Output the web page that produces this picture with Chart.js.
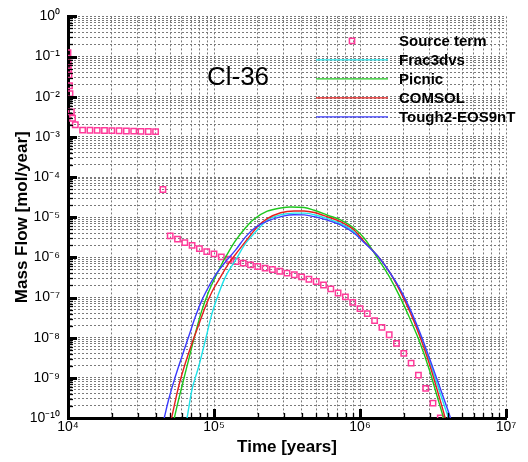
<!DOCTYPE html>
<html><head><meta charset="utf-8">
<script src="https://cdn.jsdelivr.net/npm/chart.js@4/dist/chart.umd.min.js"></script>
<style>html,body{margin:0;padding:0;background:#fff}canvas{display:block}</style>
</head><body>
<canvas id="c" width="528" height="462"></canvas>
<script>
const FONT = '"Liberation Sans", Arial, Helvetica, sans-serif';

// ---- data (time in years, mass flow in mol/year) ----
const seriesLabels = ['Source term', 'Frac3dvs', 'Picnic', 'COMSOL', 'Tough2-EOS9nT'];

const sourceTime = [10000, 10010, 10030, 10080, 10160, 10240, 10320, 10540, 10740, 11220,
  12590, 14130, 15850, 17780, 19950, 22390, 25120, 28180, 31620, 35480, 39810,
  44670, 50120, 56230, 63100, 70790, 79430, 89130, 100000, 112200, 125900, 141300, 158500,
  177800, 199500, 223900, 251200, 281800, 316200, 354800, 398100, 446700, 501200, 562300,
  631000, 707900, 794300, 891300, 1000000, 1122000, 1259000, 1413000, 1585000, 1778000,
  1995000, 2239000, 2512000, 2818000, 3162000, 3548000];
const sourceFlow = [0.124, 0.070, 0.056, 0.044, 0.035, 0.0187, 0.0119, 4.2e-3, 2.9e-3, 2.0e-3,
  1.47e-3, 1.46e-3, 1.45e-3, 1.44e-3, 1.43e-3, 1.42e-3, 1.40e-3, 1.39e-3, 1.37e-3, 1.36e-3, 1.35e-3,
  4.9e-5, 3.43e-6, 2.84e-6, 2.32e-6, 1.99e-6, 1.65e-6, 1.39e-6, 1.22e-6, 1.03e-6, 9.0e-7, 7.9e-7, 7.18e-7,
  6.5e-7, 5.94e-7, 5.39e-7, 5.0e-7, 4.5e-7, 4.05e-7, 3.7e-7, 3.27e-7, 2.85e-7, 2.5e-7, 2.05e-7,
  1.64e-7, 1.30e-7, 1.04e-7, 7.55e-8, 5.3e-8, 3.98e-8, 2.66e-8, 1.80e-8, 1.18e-8, 7.2e-9,
  4.07e-9, 2.33e-9, 1.17e-9, 5.48e-10, 2.34e-10, 1.0e-10];

const frac3dvsTime = [62900, 65400, 70600, 78500, 87300, 96900, 107700, 119800, 140400, 164500,
  192700, 231600, 286400, 353700, 414300, 485600, 599500, 741400, 915300, 1072000,
  1360000, 1594000, 1867000, 2188000, 2564000, 3004000, 3520000, 3870000, 4190000];
const frac3dvsFlow = [4.5e-11, 1.0e-10, 5.0e-10, 1.89e-9, 8.7e-9, 4.02e-8, 1.26e-7, 3.27e-7, 8.51e-7, 2.22e-6,
  4.31e-6, 8.42e-6, 1.15e-5, 1.26e-5, 1.26e-5, 1.15e-5, 9.18e-6, 6.89e-6, 4.24e-6, 2.39e-6,
  9.55e-7, 4.29e-7, 1.62e-7, 4.86e-8, 1.23e-8, 2.47e-9, 4.43e-10, 1.58e-10, 6.7e-11];

const picnicTime = [50000, 53700, 60200, 67000, 74500, 82700, 91900, 102200, 113500, 126200,
  140400, 164500, 187600, 231600, 286400, 335700, 414300, 485600, 599500, 741400,
  915300, 1072000, 1360000, 1594000, 1867000, 2188000, 2564000, 3004000, 3356000, 3633000, 3870000];
const picnicFlow = [2.8e-11, 1.06e-10, 6.0e-10, 2.8e-9, 1.28e-8, 4.86e-8, 1.39e-7, 3.27e-7, 7.05e-7, 1.39e-6,
  2.6e-6, 5.48e-6, 8.9e-6, 1.41e-5, 1.70e-5, 1.80e-5, 1.74e-5, 1.49e-5, 1.12e-5, 8.42e-6,
  5.24e-6, 2.95e-6, 8.04e-7, 3.22e-7, 1.08e-7, 3.08e-8, 7.78e-9, 1.48e-9, 3.73e-10, 1.41e-10, 6.3e-11];

const comsolTime = [47300, 51400, 57200, 63600, 70600, 78500, 87300, 96900, 107700, 126200,
  147900, 173400, 196800, 231600, 286400, 353700, 414300, 485600, 599500, 741400,
  915300, 1072000, 1360000, 1594000, 1867000, 2188000, 2564000, 3004000, 3410000, 3750000, 3996000];
const comsolFlow = [2.8e-11, 1.06e-10, 6.0e-10, 2.3e-9, 7.2e-9, 2.06e-8, 5.87e-8, 1.39e-7, 2.71e-7, 7.05e-7,
  1.51e-6, 3.18e-6, 5.64e-6, 9.18e-6, 1.29e-5, 1.43e-5, 1.43e-5, 1.31e-5, 1.02e-5, 7.64e-6,
  4.75e-6, 2.43e-6, 9.55e-7, 4.29e-7, 1.53e-7, 4.59e-8, 1.10e-8, 2.08e-9, 4.43e-10, 1.33e-10, 5.6e-11];

const tough2Time = [41600, 45800, 48800, 54300, 60200, 67000, 74500, 82700, 91900, 102200,
  119800, 140400, 164500, 192700, 231600, 301800, 353700, 414300, 485600, 599500,
  741400, 915300, 1072000, 1360000, 1594000, 1867000, 2188000, 2564000, 3004000, 3520000, 3996000, 4394000];
const tough2Flow = [2.5e-11, 1.06e-10, 2.8e-10, 1.06e-9, 3.35e-9, 1.05e-8, 3.31e-8, 8.61e-8, 1.85e-7, 3.6e-7,
  7.73e-7, 1.51e-6, 3.24e-6, 5.64e-6, 7.95e-6, 1.08e-5, 1.15e-5, 1.14e-5, 1.03e-5, 8.42e-6,
  6.33e-6, 3.94e-6, 2.32e-6, 9.55e-7, 4.29e-7, 1.71e-7, 5.45e-8, 1.38e-8, 2.94e-9, 5.9e-10, 1.58e-10, 5.6e-11];

// axis decades (tick labels are 10^n)
const xDecades = [4, 5, 6, 7];
const yDecades = [-10, -9, -8, -7, -6, -5, -4, -3, -2, -1, 0];
const xTitle = 'Time [years]';
const yTitle = 'Mass Flow [mol/year]';
const plotNote = 'Cl-36';

// ---- helpers ----
const SUP = {'0':'\u2070','1':'\u00B9','2':'\u00B2','3':'\u00B3','4':'\u2074','5':'\u2075','6':'\u2076','7':'\u2077','8':'\u2078','9':'\u2079','-':'\u207B'};
function powLabel(e) { return '10' + String(e).split('').map(c => SUP[c]).join(''); }
function isPow10(v) { const e = Math.round(Math.log10(v)); return Math.abs(v / Math.pow(10, e) - 1) < 1e-6; }
function decadeTicks(decs) {
  const out = [];
  decs.forEach((e, i) => {
    out.push({ value: Math.pow(10, e) });
    if (i < decs.length - 1) for (let m = 2; m <= 9; m++) out.push({ value: m * Math.pow(10, e) });
  });
  return out;
}
function pts(t, v) { return t.map((x, i) => ({ x: x, y: v[i] })); }

const lineDs = (label, t, v, color, order) => ({
  label, data: pts(t, v), showLine: true, borderColor: color, backgroundColor: color,
  borderWidth: 1.4, pointRadius: 0, pointHoverRadius: 0, cubicInterpolationMode: 'monotone', order
});

const datasets = [
  { label: seriesLabels[0], data: pts(sourceTime, sourceFlow), showLine: false,
    pointStyle: 'rect', pointRadius: 3.8, borderWidth: 1.5, borderColor: '#ff3b9a',
    backgroundColor: 'rgba(255,255,255,0)', order: 10 },
  lineDs(seriesLabels[1], frac3dvsTime, frac3dvsFlow, '#1fe3ea', 4),
  lineDs(seriesLabels[2], picnicTime, picnicFlow, '#1ec81e', 3),
  lineDs(seriesLabels[3], comsolTime, comsolFlow, '#e61e1e', 2),
  lineDs(seriesLabels[4], tough2Time, tough2Flow, '#3c3cff', 1)
];

const gridOpts = { color: '#7a7a7a', lineWidth: 1, drawTicks: false };
const borderOpts = { display: true, color: '#000', width: 3, dash: [2, 2] };

const innerTicks = {
  id: 'innerTicks',
  afterDraw(chart) {
    const { ctx, chartArea: a, scales } = chart;
    ctx.save();
    ctx.strokeStyle = '#000';
    scales.x.ticks.forEach(t => {
      const px = Math.round(scales.x.getPixelForValue(t.value)) + 0.5;
      const maj = isPow10(t.value);
      ctx.lineWidth = maj ? 3 : 1.3;
      ctx.beginPath(); ctx.moveTo(px, a.bottom); ctx.lineTo(px, a.bottom - (maj ? 9 : 5)); ctx.stroke();
    });
    scales.y.ticks.forEach(t => {
      const py = Math.round(scales.y.getPixelForValue(t.value)) + 0.5;
      const maj = isPow10(t.value);
      ctx.lineWidth = maj ? 3 : 1.3;
      ctx.beginPath(); ctx.moveTo(a.left, py); ctx.lineTo(a.left + (maj ? 9 : 5), py); ctx.stroke();
    });
    ctx.restore();
  }
};

const annotate = {
  id: 'annotate',
  afterDraw(chart) {
    const { ctx, chartArea: a } = chart;
    ctx.save();
    // plot note
    ctx.font = '26px ' + FONT;
    ctx.fillStyle = '#000';
    ctx.textAlign = 'center';
    ctx.textBaseline = 'middle';
    ctx.fillText(plotNote, a.left + 170, a.top + 61);
    // legend
    ctx.textAlign = 'left';
    ctx.font = 'bold 15px ' + FONT;
    const x0 = a.right - 190, x1 = a.right - 118, xt = a.right - 107;
    chart.data.datasets.forEach((ds, i) => {
      const y = a.top + 24.5 + i * 19;
      ctx.strokeStyle = ds.borderColor;
      ctx.lineWidth = ds.borderWidth;
      if (ds.showLine === false) {
        const s = 2.6;
        ctx.strokeRect((x0 + x1) / 2 - s, y - s, 2 * s, 2 * s);
      } else {
        ctx.beginPath(); ctx.moveTo(x0, y); ctx.lineTo(x1, y); ctx.stroke();
      }
      ctx.fillStyle = '#000';
      ctx.fillText(ds.label, xt, y + 0.5);
    });
    ctx.restore();
  }
};

new Chart(document.getElementById('c'), {
  type: 'scatter',
  data: { datasets },
  options: {
    responsive: false,
    animation: false,
    events: [],
    layout: { padding: { left: 0, top: 16, right: 22, bottom: 0 } },
    plugins: { legend: { display: false }, tooltip: { enabled: false } },
    scales: {
      x: {
        type: 'logarithmic', min: 1e4, max: 1e7,
        afterBuildTicks: s => { s.ticks = decadeTicks(xDecades); },
        afterFit: s => { s.height = 44; },
        grid: gridOpts, border: borderOpts,
        ticks: { autoSkip: false, maxRotation: 0, padding: 1, color: '#000',
          font: { size: 14, family: FONT },
          callback: v => isPow10(v) ? powLabel(Math.round(Math.log10(v))) : '' },
        title: { display: true, text: xTitle, color: '#000', padding: { top: 2, bottom: 4 },
          font: { size: 17, weight: 'bold', family: FONT } }
      },
      y: {
        type: 'logarithmic', min: 1e-10, max: 1,
        afterBuildTicks: s => { s.ticks = decadeTicks(yDecades); },
        afterFit: s => { s.width = 68; },
        grid: gridOpts, border: borderOpts,
        ticks: { autoSkip: false, padding: 8, color: '#000',
          font: { size: 14, family: FONT },
          callback: v => isPow10(v) ? powLabel(Math.round(Math.log10(v))) : '' },
        title: { display: true, text: yTitle, color: '#000', padding: { top: 12, bottom: 0 },
          font: { size: 17, weight: 'bold', family: FONT } }
      }
    }
  },
  plugins: [innerTicks, annotate]
});
</script>
</body></html>
